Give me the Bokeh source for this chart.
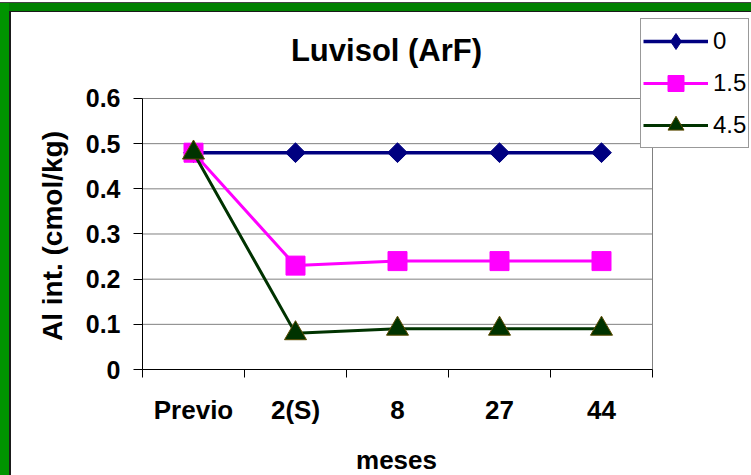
import math

from bokeh.plotting import figure
from bokeh.models import Range1d, FixedTicker, Legend, LegendItem, Label
from bokeh.embed import file_html
from bokeh.resources import INLINE

# Aluminio intercambiable en un Luvisol (ArF) segun meses tras el encalado
meses = ["Previo", "2(S)", "8", "27", "44"]
dosis_0 = [0.48, 0.48, 0.48, 0.48, 0.48]
dosis_15 = [0.48, 0.23, 0.24, 0.24, 0.24]
dosis_45 = [0.48, 0.08, 0.09, 0.09, 0.09]
nombres_series = ["0", "1.5", "4.5"]
y_ticks = [0, 0.1, 0.2, 0.3, 0.4, 0.5, 0.6]
y_tick_labels = ["0", "0.1", "0.2", "0.3", "0.4", "0.5", "0.6"]
titulo = "Luvisol (ArF)"
titulo_x = "meses"
titulo_y = "Al int. (cmol/kg)"

FONT = "Liberation Sans"

# categories sit at 1..n, tick marks fall on the boundaries between them
n = len(meses)
xpos = [i + 1 for i in range(n)]
bordes = [i + 0.5 for i in range(n + 1)]
x_min, x_max = bordes[0], bordes[-1]
y_min, y_max = y_ticks[0], y_ticks[-1]

# The frame fills the whole white sheet; the plot area (x_min..x_max,
# y_min..y_max) sits inside it and the axes are pinned to its edges.
PX_X = 102.0      # pixels per category
PX_Y = 451.67     # pixels per unit of Al
AREA_L, AREA_R, AREA_T, AREA_B = 142, 652, 98, 369   # plot area on the page
FRAME_L, FRAME_T, W, H = 11, 12, 751, 475


def sx(px):
    return x_min + (px - AREA_L) / PX_X


def sy(py):
    return y_min + (AREA_B - py) / PX_Y


p = figure(
    width=W, height=H,
    output_backend="svg", toolbar_location=None, title=None,
    x_range=Range1d(sx(FRAME_L), sx(W)),
    y_range=Range1d(sy(H), sy(FRAME_T)),
    min_border_left=FRAME_L, min_border_right=0,
    min_border_top=FRAME_T, min_border_bottom=0,
    background_fill_color="white",
    border_fill_alpha=0,
)
p.outline_line_color = None
p.xgrid.visible = False
p.ygrid.visible = False

# green frame of the chart sheet
p.styles = {
    "box-shadow": (
        "inset 0 2px 0 0 #ffffff, inset 0 3px 0 0 #444444, "
        "inset 9px 0 0 0 #009400, inset 0 11px 0 0 #008000, "
        "inset 11px 12px 0 0 #1a1a1a"
    )
}

# horizontal gridlines and the right edge of the plot area
ng = len(y_ticks) - 1
p.segment(x0=[x_min] * ng, x1=[x_max] * ng, y0=y_ticks[1:], y1=y_ticks[1:],
          line_color="#808080", line_width=1)
p.segment(x0=[x_max], x1=[x_max], y0=[y_min], y1=[y_max],
          line_color="#808080", line_width=1)

# y axis, pinned at the left edge of the plot area
ya = p.yaxis[0]
ya.fixed_location = x_min
ya.bounds = (y_min, y_max)
ya.ticker = FixedTicker(ticks=y_ticks)
ya.major_label_overrides = dict(zip(y_ticks, y_tick_labels))
ya.major_tick_in = 0
ya.major_tick_out = 9
ya.major_tick_line_color = "black"
ya.minor_tick_line_color = None
ya.axis_line_color = "black"
ya.major_label_standoff = 13
ya.major_label_text_font = FONT
ya.major_label_text_font_style = "bold"
ya.major_label_text_font_size = "25px"
ya.major_label_text_color = "black"

# x axis, pinned at y = 0
xa = p.xaxis[0]
xa.fixed_location = y_min
xa.bounds = (x_min, x_max)
xa.ticker = FixedTicker(ticks=xpos, minor_ticks=bordes)
xa.major_label_overrides = dict(zip(xpos, meses))
xa.major_tick_in = 0
xa.major_tick_out = 0
xa.minor_tick_in = 0
xa.minor_tick_out = 8
xa.minor_tick_line_color = "black"
xa.axis_line_color = "black"
xa.major_label_standoff = 17
xa.major_label_text_font = FONT
xa.major_label_text_font_style = "bold"
xa.major_label_text_font_size = "26px"
xa.major_label_text_color = "black"

# title and axis titles
p.add_layout(Label(
    x=sx(386), y=sy(50), text=titulo,
    text_align="center", text_baseline="middle",
    text_font=FONT, text_font_style="bold", text_font_size="31px",
    text_color="black",
))
p.add_layout(Label(
    x=sx(396), y=sy(459), text=titulo_x,
    text_align="center", text_baseline="middle",
    text_font=FONT, text_font_style="bold", text_font_size="26px",
    text_color="black",
))
p.add_layout(Label(
    x=sx(52), y=sy(235.5), text=titulo_y, angle=math.pi / 2,
    text_align="center", text_baseline="middle",
    text_font=FONT, text_font_style="bold", text_font_size="28px",
    text_color="black",
))

# series: line + marker for each dose
l0 = p.line(xpos, dosis_0, line_color="#000080", line_width=3.5)
# upright diamond used as the legend key (hidden under the rotated squares)
k0 = p.scatter(xpos, dosis_0, marker="diamond", size=14,
               fill_color="#000080", line_color="#000080")
m0 = p.scatter(xpos, dosis_0, marker="square", angle=math.pi / 4, size=14,
               fill_color="#000080", line_color="#000080")
l1 = p.line(xpos, dosis_15, line_color="#FF00FF", line_width=3)
m1 = p.scatter(xpos, dosis_15, marker="square", size=19,
               fill_color="#FF00FF", line_color="#FF00FF")
l2 = p.line(xpos, dosis_45, line_color="#003300", line_width=3)
m2 = p.scatter(xpos, dosis_45, marker="triangle", size=22,
               fill_color="#003300", line_color="#5a4a00", line_width=1)

legend = Legend(
    items=[
        LegendItem(label=nombres_series[0], renderers=[l0, k0]),
        LegendItem(label=nombres_series[1], renderers=[l1, m1]),
        LegendItem(label=nombres_series[2], renderers=[l2, m2]),
    ],
    location=(640 - FRAME_L, H - 148),
    orientation="vertical",
    glyph_width=65, glyph_height=40,
    label_standoff=5, spacing=2, padding=2, margin=0,
    label_text_font=FONT, label_text_font_size="24px", label_text_color="black",
    border_line_color="#333333", border_line_width=1,
    background_fill_color="white", background_fill_alpha=1,
)
p.add_layout(legend)

open("out.html", "w").write(file_html(p, INLINE))
